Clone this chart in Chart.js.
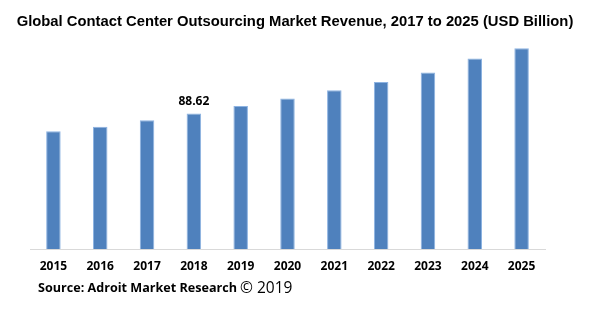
<!DOCTYPE html>
<html>
<head>
<meta charset="utf-8">
<script src="https://cdn.jsdelivr.net/npm/chart.js@4"></script>
<style>
  html, body { margin: 0; padding: 0; background: #fff; }
  #revenueChart { display: block; }
</style>
</head>
<body>
<canvas id="revenueChart" width="596" height="321"></canvas>
<script>
const years = ['2015', '2016', '2017', '2018', '2019', '2020', '2021', '2022', '2023', '2024', '2025'];
const revenue = [77.1, 79.9, 84.3, 88.62, 93.6, 98.4, 103.9, 109.3, 115.4, 124.6, 131.4];
const labelledYears = ['2018'];

const chartTitle = 'Global Contact Center Outsourcing Market Revenue, 2017 to 2025 (USD Billion)';
const sourceText = 'Source: Adroit Market Research';
const sourceYear = '\u00A9 2019';

// title, source line and the single value label
const textPlugin = {
    id: 'textPlugin',
    afterDraw(chart) {
        const ctx = chart.ctx;
        ctx.save();
        ctx.fillStyle = '#000';

        ctx.font = 'bold 14.8px "Liberation Sans", Arial, sans-serif';
        ctx.textAlign = 'center';
        ctx.textBaseline = 'alphabetic';
        ctx.fillText(chartTitle, 295, 26);

        ctx.textAlign = 'left';
        ctx.font = 'bold 12.6px "Open Sans", sans-serif';
        ctx.fillText(sourceText, 38, 292);
        const w = ctx.measureText(sourceText).width;
        ctx.font = '15.5px "Open Sans", sans-serif';
        ctx.fillText(sourceYear, 38 + w + 3, 293);

        const meta = chart.getDatasetMeta(0);
        ctx.font = 'bold 12px "Open Sans", sans-serif';
        ctx.textAlign = 'center';
        ctx.textBaseline = 'bottom';
        years.forEach((y, i) => {
            if (!labelledYears.includes(y)) return;
            const bar = meta.data[i];
            ctx.fillText(revenue[i].toFixed(2), bar.x, bar.y - 6);
        });
        ctx.restore();
    }
};

const ctx = document.getElementById('revenueChart').getContext('2d');
new Chart(ctx, {
    type: 'bar',
    data: {
        labels: years,
        datasets: [{
            data: revenue,
            backgroundColor: '#4f81bd',
            borderColor: '#8db3e2',
            borderWidth: 1,
            barPercentage: 0.31,
            categoryPercentage: 1
        }]
    },
    options: {
        responsive: false,
        animation: false,
        layout: {
            padding: { left: 30, right: 51, top: 35, bottom: 42 }
        },
        plugins: {
            legend: { display: false },
            tooltip: { enabled: false }
        },
        scales: {
            x: {
                grid: { display: false },
                border: { display: true, color: '#d9d9d9', width: 1 },
                ticks: {
                    color: '#000',
                    padding: 2,
                    font: { family: '"Open Sans", sans-serif', size: 12, weight: 'bold' }
                },
                afterFit(scale) { scale.height = 30; }
            },
            y: {
                display: false,
                min: 0,
                max: 140
            }
        }
    },
    plugins: [textPlugin]
});
</script>
</body>
</html>
